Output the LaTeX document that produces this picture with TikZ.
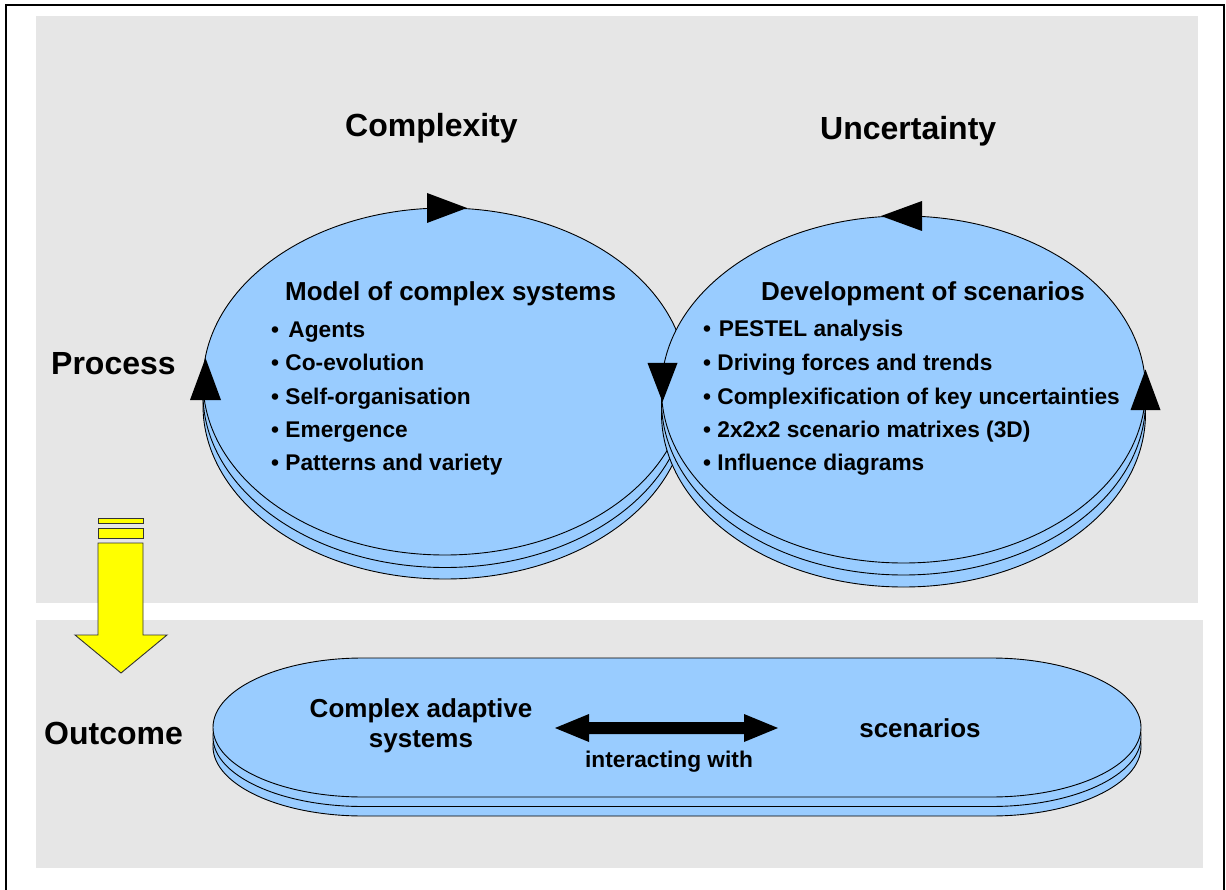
\documentclass[tikz,border=0pt]{standalone}
\usepackage{fontspec}
\setmainfont{Liberation Sans}
\usetikzlibrary{shapes.geometric}
\definecolor{panelgray}{RGB}{230,230,230}
\definecolor{discblue}{RGB}{153,204,255}
\definecolor{arrowyellow}{RGB}{255,255,0}
\newcommand\bigfont{\fontsize{32}{38}\selectfont\bfseries}
\newcommand\headfont{\fontsize{26}{30}\selectfont\bfseries}
\newcommand\itemfont{\fontsize{22.7}{27}\selectfont\bfseries}
\begin{document}
\begin{tikzpicture}[x=1pt,y=-1pt,
  panel/.style={fill=panelgray, draw=none},
  discshape/.style={ellipse, minimum width=484pt, minimum height=347pt, inner sep=0pt, outer sep=0pt, fill=discblue, draw=black, line width=0.9pt},
  pillstyle/.style={fill=discblue, draw=black, line width=0.9pt},
  marker/.style={fill=black, draw=none},
  biglabel/.style={inner sep=0pt, anchor=base west, font=\bigfont},
  headlabel/.style={inner sep=0pt, anchor=base west, font=\headfont},
  itemlabel/.style={inner sep=0pt, anchor=base west, font=\itemfont},
  pilltext/.style={inner sep=0pt, anchor=base, font=\headfont},
  pillsmall/.style={inner sep=0pt, anchor=base, font=\itemfont},
  yellowarrow/.style={fill=arrowyellow, draw=black!80, line width=0.9pt}]
\useasboundingbox (0,0) rectangle (1226,890);
\fill[white] (0,0) rectangle (1226,890);

% frame
\draw[line width=2pt] (6,890) -- (6,5.5) -- (1224,5.5) -- (1224,890);

% panels
\fill[panel] (36,16) rectangle (1198,603);
\fill[panel] (36,620) rectangle (1203,868);

% left stack
\node[discshape] (L3) at (445,405.5) {};
\node[discshape] (L2) at (445,394) {};
\node[discshape] (L1) at (445,381.5) {};
% right stack
\node[discshape] (R3) at (903.5,413.5) {};
\node[discshape] (R2) at (903.5,401.5) {};
\node[discshape] (R1) at (903.5,389.5) {};

% markers on the ellipses
\fill[marker] (L1.north) ++(-18,-15) -- ++(0,30) -- ++(40,-15) -- cycle;
\fill[marker] (L1.west) ++(-13,18.5) -- ++(31,0) -- ++(-15.5,-42) -- cycle;
\fill[marker] (R1.north) ++(18.5,-15) -- ++(0,30) -- ++(-41,-15) -- cycle;
\fill[marker] (R1.west) ++(-14,-26.5) -- ++(30,0) -- ++(-15,39) -- cycle;
\fill[marker] (R1.east) ++(-15,20.5) -- ++(30,0) -- ++(-15,-40.5) -- cycle;

% top labels
\node[biglabel] (complexity) at (345,137) {Complexity};
\node[biglabel] (uncertainty) at (820,140) {Uncertainty};
\node[biglabel] (process) at (51,374) {Process};
\node[biglabel] (outcome) at (44,744) {Outcome};

% left ellipse text
\node[headlabel] (lhead) at (285,301) {Model of complex systems};
\node[itemlabel] (l1) at (271,338) {•\hspace{3pt} Agents};
\node[itemlabel] (l2) at (271,371) {• Co-evolution};
\node[itemlabel] (l3) at (271,404) {• Self-organisation};
\node[itemlabel] (l4) at (271,437) {• Emergence};
\node[itemlabel] (l5) at (271,470) {• Patterns and variety};

% right ellipse text
\node[headlabel] (rhead) at (761,301) {Development of scenarios};
\node[itemlabel] (r1) at (703,337) {•\hspace{1.5pt} PESTEL analysis};
\node[itemlabel] (r2) at (703,371) {• Driving forces and trends};
\node[itemlabel] (r3) at (703,404) {• Complexification of key uncertainties};
\node[itemlabel] (r4) at (703,437) {• 2x2x2 scenario matrixes (3D)};
\node[itemlabel] (r5) at (703,470) {• Influence diagrams};

% yellow arrow
\draw[yellowarrow] (98,518) rectangle (143,523);
\draw[yellowarrow] (98,528) rectangle (143,538);
\draw[yellowarrow] (98,543) -- (143,543) -- (143,635) -- (167,635) -- (121,673) -- (75,635) -- (98,635) -- cycle;

% outcome pill
\foreach \o in {19,9.5,0} {
  \filldraw[pillstyle] (363,658+\o) -- (991,658+\o)
    arc[start angle=90, end angle=-90, x radius=150pt, y radius=69.5pt]
    -- (363,797+\o)
    arc[start angle=270, end angle=90, x radius=150pt, y radius=69.5pt] -- cycle;
}

\node[pilltext] (cas1) at (421,717) {Complex adaptive};
\node[pilltext] (cas2) at (421,747) {systems};
\node[pilltext] (scen) at (920,737) {scenarios};
\node[pillsmall] (inter) at (669,767) {interacting with};

% double arrow
\coordinate (dl) at (555,728);
\coordinate (dr) at (778,728);
\fill[black] (dl) -- ++(34,-14) -- ++(0,8) -- ++(155,0) -- ++(0,-8) -- (dr)
  -- ++(-34,14) -- ++(0,-8) -- ++(-155,0) -- ++(0,8) -- cycle;
\end{tikzpicture}
\end{document}
